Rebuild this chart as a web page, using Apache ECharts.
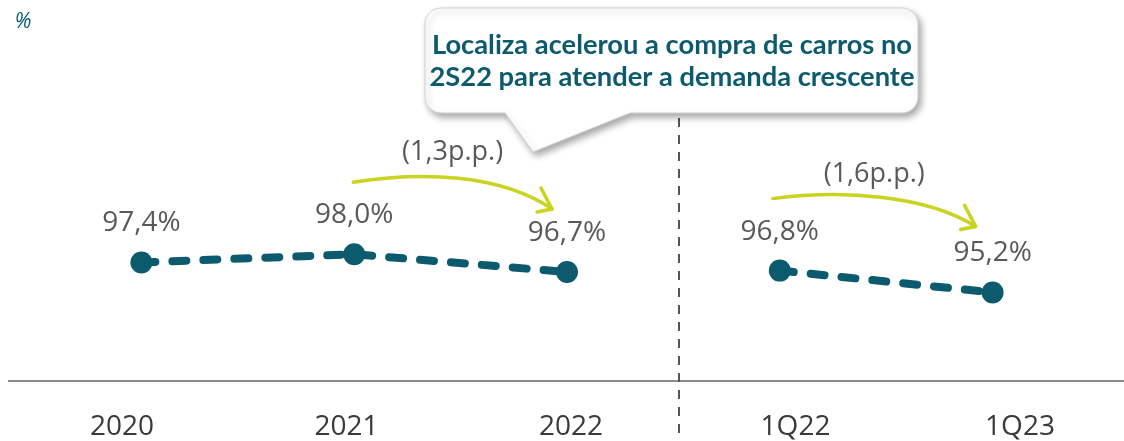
<!DOCTYPE html>
<html>
<head>
<meta charset="utf-8">
<script src="https://cdn.jsdelivr.net/npm/echarts@6/dist/echarts.min.js"></script>
<style>
  html, body { margin: 0; padding: 0; background: #fff; }
  #chart { width: 1124px; height: 441px; }
</style>
</head>
<body>
<div id="chart"></div>
<script>
// Periods on the x axis: three years, then two quarters
const categories = ['2020', '2021', '2022', '1Q22', '1Q23'];
// Annual series (percent)
const annualValues = [97.4, 98.0, 96.7, null, null];
// Quarterly series (percent)
const quarterlyValues = [null, null, null, 96.8, 95.2];
// Callout text
const calloutLines = [
  'Localiza acelerou a compra de carros no',
  '2S22 para atender a demanda crescente'
];
const unitLabel = '%';

const TEAL = '#0b5a6d';
const GRAY_TEXT = '#595959';
const ARROW = '#cad31f';

const fmtPct = v => v.toFixed(1).replace('.', ',') + '%';

const chart = echarts.init(document.getElementById('chart'), null, { renderer: 'canvas' });

const seriesStyle = {
  type: 'line',
  xAxisIndex: 0,
  yAxisIndex: 0,
  symbol: 'circle',
  symbolSize: 22,
  connectNulls: false,
  itemStyle: { color: TEAL },
  lineStyle: { color: TEAL, width: 8, type: [14, 17], cap: 'round' },
  label: {
    show: true,
    position: 'top',
    distance: 14,
    color: GRAY_TEXT,
    fontFamily: 'Open Sans',
    fontSize: 28,
    formatter: p => fmtPct(p.value)
  },
  emphasis: { disabled: true },
  animation: false
};

chart.setOption({
  animation: false,
  grid: [
    // plotting area for the lines
    { left: 35, right: 25, top: 227, bottom: 60 },
    // period labels row, spread a little wider than the points
    { left: 122, right: 104, top: 227, bottom: 60 }
  ],
  xAxis: [
    {
      type: 'category',
      gridIndex: 0,
      data: categories,
      boundaryGap: true,
      axisLine: { show: false },
      axisTick: { show: false },
      axisLabel: { show: false },
      splitLine: { show: false }
    },
    {
      type: 'category',
      gridIndex: 1,
      data: categories,
      boundaryGap: false,
      axisLine: { show: false },
      axisTick: { show: false },
      axisLabel: {
        color: '#3a3a3a',
        fontFamily: 'Open Sans',
        fontSize: 28,
        lineHeight: 28,
        margin: 32
      },
      splitLine: { show: false }
    }
  ],
  yAxis: [
    { type: 'value', gridIndex: 0, min: 88.7, max: 100, show: false, splitLine: { show: false } },
    { type: 'value', gridIndex: 1, min: 88.7, max: 100, show: false, splitLine: { show: false } }
  ],
  series: [
    Object.assign({ name: 'Anual', data: annualValues }, seriesStyle),
    Object.assign({ name: 'Trimestral', data: quarterlyValues }, seriesStyle)
  ]
});

// Pixel position of a category point
const px = (cat, val) => chart.convertToPixel({ gridIndex: 0 }, [cat, val]);

function arrowElements(fromCat, fromVal, toCat, toVal, startOff, tipOff, c1, c2, lblDy) {
  const a = px(fromCat, fromVal);
  const b = px(toCat, toVal);
  const S = [a[0] + startOff[0], a[1] + startOff[1]];
  const T = [b[0] + tipOff[0], b[1] + tipOff[1]];
  const diff = Math.round((fromVal - toVal) * 10) / 10;
  return [
    {
      type: 'bezierCurve',
      shape: {
        x1: S[0], y1: S[1],
        cpx1: S[0] + c1[0], cpy1: S[1] + c1[1],
        cpx2: T[0] + c2[0], cpy2: T[1] + c2[1],
        x2: T[0], y2: T[1]
      },
      style: { stroke: ARROW, lineWidth: 3.5, fill: null, lineCap: 'round' }
    },
    {
      type: 'polyline',
      shape: { points: [[T[0] - 11, T[1] - 21], [T[0], T[1]], [T[0] - 15, T[1] + 3]] },
      style: { stroke: ARROW, lineWidth: 3.5, fill: null, lineCap: 'round', lineJoin: 'round' }
    },
    {
      type: 'text',
      x: (S[0] + T[0]) / 2,
      y: S[1] + lblDy,
      style: {
        text: '(' + diff.toFixed(1).replace('.', ',') + 'p.p.)',
        fill: GRAY_TEXT,
        font: '27px "Open Sans"',
        align: 'center',
        verticalAlign: 'middle'
      }
    }
  ];
}

// Outline of a rounded speech bubble with a tail on its lower edge
function bubblePoints(x0, y0, x1, y1, r, tailL, tip, tailR) {
  const pts = [];
  const arc = (cx, cy, a0, a1) => {
    for (let i = 0; i <= 8; i++) {
      const a = a0 + (a1 - a0) * i / 8;
      pts.push([cx + r * Math.cos(a), cy + r * Math.sin(a)]);
    }
  };
  arc(x0 + r, y0 + r, Math.PI, Math.PI * 1.5);
  arc(x1 - r, y0 + r, Math.PI * 1.5, Math.PI * 2);
  arc(x1 - r, y1 - r, 0, Math.PI * 0.5);
  pts.push([tailR, y1], tip, [tailL, y1]);
  arc(x0 + r, y1 - r, Math.PI * 0.5, Math.PI);
  return pts;
}

const baseY = px('2020', 88.7)[1];

const graphics = [
  // baseline
  {
    type: 'line',
    shape: { x1: 8, y1: baseY, x2: 1124, y2: baseY },
    style: { stroke: '#8c8c8c', lineWidth: 2 }
  },
  // separator between annual and quarterly periods
  {
    type: 'line',
    shape: { x1: 679, y1: 118, x2: 679, y2: 441 },
    style: { stroke: '#555', lineWidth: 2, lineDash: [9, 8] }
  },
  // unit marker
  {
    type: 'text',
    x: 23, y: 22,
    style: {
      text: unitLabel,
      fill: TEAL,
      font: 'italic 21px "Open Sans"',
      align: 'center',
      verticalAlign: 'middle'
    }
  },
  // callout bubble
  {
    type: 'polygon',
    shape: { points: bubblePoints(425, 8, 918, 113, 16, 505, [533, 152], 630) },
    style: {
      fill: '#fff',
      stroke: '#d2d2d2',
      lineWidth: 1,
      shadowBlur: 7,
      shadowOffsetX: 3,
      shadowOffsetY: 4,
      shadowColor: 'rgba(0,0,0,0.35)'
    },
    z: 10
  },
  {
    type: 'text',
    x: 672, y: 45,
    style: {
      text: calloutLines[0],
      fill: TEAL,
      font: 'bold 27.3px Lato',
      align: 'center',
      verticalAlign: 'middle'
    },
    z: 11
  },
  {
    type: 'text',
    x: 672, y: 77,
    style: {
      text: calloutLines[1],
      fill: TEAL,
      font: 'bold 27.3px Lato',
      align: 'center',
      verticalAlign: 'middle'
    },
    z: 11
  }
]
  .concat(arrowElements('2021', annualValues[1], '2022', annualValues[2],
    [-1, -72], [-15, -63], [68, -11], [-52, -35], -30))
  .concat(arrowElements('1Q22', quarterlyValues[3], '1Q23', quarterlyValues[4],
    [-7, -72], [-17, -66], [67, -9], [-50, -32], -24));

chart.setOption({ graphic: { elements: graphics } });
</script>
</body>
</html>
